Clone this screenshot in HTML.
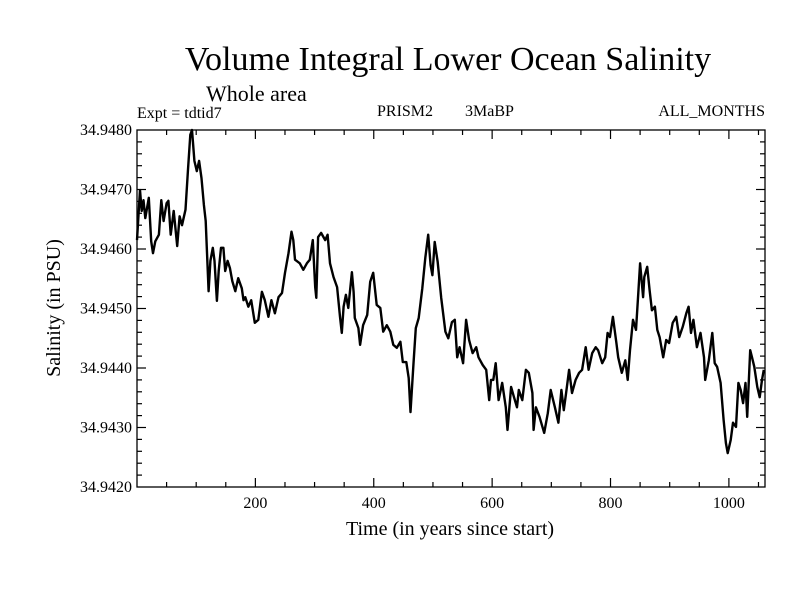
<!DOCTYPE html>
<html><head><meta charset="utf-8"><style>
body{margin:0;background:#fff;}
svg{display:block;font-family:"Liberation Serif",serif;}
</style></head><body>
<svg id="c" width="800" height="600" xmlns="http://www.w3.org/2000/svg">
<text x="448" y="70" font-size="34" text-anchor="middle">Volume Integral Lower Ocean Salinity</text>
<text x="206" y="101" font-size="22">Whole area</text>
<text x="137" y="118" font-size="16">Expt = tdtid7</text>
<text x="377" y="116" font-size="16">PRISM2</text>
<text x="465" y="116" font-size="16">3MaBP</text>
<text x="765" y="116" font-size="16" text-anchor="end">ALL_MONTHS</text>
<text x="450" y="535" font-size="20" text-anchor="middle">Time (in years since start)</text>
<text transform="translate(60,308) rotate(-90)" font-size="20" text-anchor="middle">Salinity (in PSU)</text>
<g id="axes"></g>
</svg>
<script>
const years=[0,5,8,11,14,20,24,27,31,37,41,45,50,53,57,62,68,72,76,82,86,90,93,97,101,105,109,113,116,118,121,124,128,131,135,138,142,146,149,153,157,161,166,171,177,180,183,188,193,199,205,211,216,222,227,233,239,245,250,256,261,264,267,275,281,287,292,297,301,303,306,311,318,322,326,332,338,343,346,349,353,357,363,366,368,374,377,382,389,394,399,405,411,416,422,428,433,439,445,449,455,459,462,467,471,476,482,487,492,496,499,503,508,514,521,526,532,537,541,545,551,556,561,567,573,577,584,590,595,598,602,606,611,617,623,626,632,637,642,645,651,657,662,668,670,674,680,688,694,699,706,712,717,721,725,730,735,741,747,752,758,763,769,775,779,786,791,795,799,804,810,813,819,825,829,833,838,843,847,850,855,857,862,866,870,875,879,883,889,894,899,905,911,916,922,928,932,936,940,946,952,958,960,966,972,976,980,986,991,995,998,1003,1007,1012,1016,1020,1024,1028,1031,1036,1039,1043,1048,1052,1056,1059];
const salinity=[34.94615,34.94699,34.94664,34.94682,34.94652,34.94686,34.94613,34.94593,34.94613,34.94624,34.94682,34.94647,34.94677,34.94681,34.94624,34.94664,34.94605,34.94655,34.94640,34.94666,34.94731,34.94792,34.94800,34.94748,34.94731,34.94748,34.94719,34.94674,34.94647,34.94602,34.94529,34.94580,34.94602,34.94580,34.94513,34.94563,34.94602,34.94602,34.94563,34.94580,34.94568,34.94546,34.94529,34.94551,34.94534,34.94514,34.94519,34.94503,34.94514,34.94476,34.94481,34.94528,34.94514,34.94486,34.94514,34.94492,34.94519,34.94526,34.94560,34.94593,34.94629,34.94615,34.94582,34.94576,34.94565,34.94576,34.94582,34.94615,34.94536,34.94518,34.94620,34.94627,34.94615,34.94624,34.94576,34.94553,34.94536,34.94486,34.94459,34.94503,34.94523,34.94501,34.94561,34.94528,34.94484,34.94467,34.94439,34.94472,34.94489,34.94545,34.94560,34.94506,34.94501,34.94461,34.94472,34.94461,34.94439,34.94434,34.94444,34.94410,34.94410,34.94383,34.94326,34.94405,34.94467,34.94484,34.94534,34.94585,34.94624,34.94573,34.94556,34.94612,34.94578,34.94518,34.94461,34.94450,34.94477,34.94481,34.94418,34.94435,34.94408,34.94481,34.94447,34.94425,34.94435,34.94418,34.94405,34.94397,34.94346,34.94380,34.94380,34.94408,34.94346,34.94375,34.94334,34.94296,34.94368,34.94351,34.94334,34.94363,34.94346,34.94397,34.94392,34.94358,34.94296,34.94334,34.94318,34.94291,34.94324,34.94363,34.94334,34.94308,34.94363,34.94329,34.94358,34.94397,34.94358,34.94380,34.94392,34.94397,34.94435,34.94397,34.94425,34.94435,34.94430,34.94408,34.94418,34.94459,34.94452,34.94486,34.94442,34.94418,34.94392,34.94413,34.94380,34.94430,34.94481,34.94464,34.94526,34.94576,34.94519,34.94553,34.94570,34.94531,34.94497,34.94503,34.94464,34.94452,34.94418,34.94447,34.94442,34.94476,34.94486,34.94452,34.94469,34.94492,34.94503,34.94459,34.94481,34.94435,34.94459,34.94418,34.94380,34.94413,34.94459,34.94408,34.94402,34.94375,34.94313,34.94274,34.94257,34.94279,34.94308,34.94301,34.94375,34.94363,34.94341,34.94375,34.94318,34.94430,34.94418,34.94402,34.94368,34.94351,34.94380,34.94397];
const xTickLabels=[200,400,600,800,1000];
const yTickLabels=["34.9420","34.9430","34.9440","34.9450","34.9460","34.9470","34.9480"];

const L=137,R=765,T=130,B=487,X0=0,X1=1061,Y0=34.942,Y1=34.948;
const sx=v=>L+(v-X0)/(X1-X0)*(R-L);
const sy=v=>B-(v-Y0)/(Y1-Y0)*(B-T);
const NS="http://www.w3.org/2000/svg";
const g=document.getElementById('axes');
function mk(tag,at){const e=document.createElementNS(NS,tag);for(const k in at)e.setAttribute(k,at[k]);g.appendChild(e);return e;}
const frame=mk('rect',{x:L,y:T,width:R-L,height:B-T,fill:'none',stroke:'#000','stroke-width':1.3});


for(let v=50;v<X1;v+=50){
  const major=v%200===0,len=major?9:5,x=sx(v);
  const t1=mk('line',{x1:x,x2:x,y1:B,y2:B-len,stroke:'#000','stroke-width':1.2});
  
  
  const t2=mk('line',{x1:x,x2:x,y1:T,y2:T+len,stroke:'#000','stroke-width':1.2});
  
  
}
xTickLabels.forEach(v=>{
  const t=mk('text',{x:sx(v),y:508,'font-size':16,'text-anchor':'middle'});
  t.textContent=v;
  
  
});
for(let i=1;i<30;i++){
  const v=Y0+i*0.0002,y=sy(v),len=i%5===0?9:5;
  const t1=mk('line',{x1:L,x2:L+len,y1:y,y2:y,stroke:'#000','stroke-width':1.2});
  
  
  const t2=mk('line',{x1:R,x2:R-len,y1:y,y2:y,stroke:'#000','stroke-width':1.2});
  
  
}
yTickLabels.forEach(s=>{
  const t=mk('text',{x:132,y:sy(parseFloat(s))+5,'font-size':16,'text-anchor':'end'});
  t.textContent=s;
  
  
});
const d=years.map((yr,i)=>(i?'L':'M')+sx(yr).toFixed(1)+','+sy(salinity[i]).toFixed(1)).join('');
const p=mk('path',{d:d,fill:'none',stroke:'#000','stroke-width':2.4,'stroke-linejoin':'round'});


</script>
</body></html>
